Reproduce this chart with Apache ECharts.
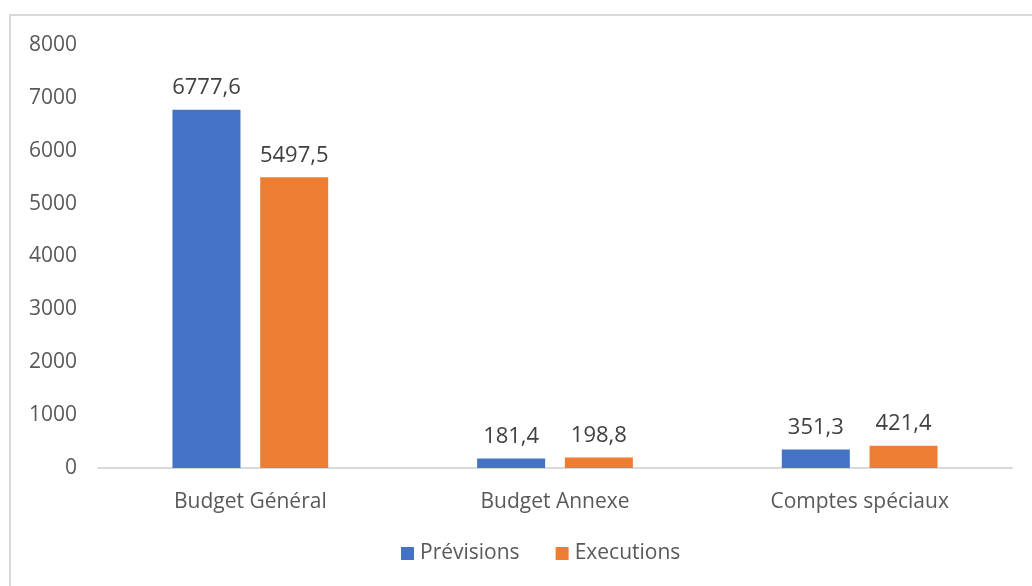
<!DOCTYPE html>
<html><head><meta charset="utf-8">
<script src="https://cdn.jsdelivr.net/npm/echarts@6/dist/echarts.min.js"></script>
<style>
html,body{margin:0;padding:0;background:#fff;}
#frame{position:absolute;left:9px;top:14px;width:1040px;height:600px;border:2px solid #d9d9d9;box-sizing:border-box;}
#c{position:absolute;left:0;top:0;width:1032px;height:586px;}
</style></head>
<body>
<div id="frame"></div>
<div id="c"></div>
<script>
const categories = ['Budget Général', 'Budget Annexe', 'Comptes spéciaux'];
const previsions = [6777.6, 181.4, 351.3];
const executions = [5497.5, 198.8, 421.4];
const yTicks = [0, 1000, 2000, 3000, 4000, 5000, 6000, 7000, 8000];

const chart = echarts.init(document.getElementById('c'));
const fmt = p => String(p.value).replace('.', ',');
const font = "'Open Sans', sans-serif";
chart.setOption({
  animation: false,
  textStyle: {fontFamily: font},
  grid: {left: 98, right: 20, top: 45, bottom: 118},
  legend: {
    bottom: 17, left: 396,
    itemWidth: 13, itemHeight: 13, itemGap: 36,
    icon: 'rect',
    textStyle: {fontSize: 21, color: '#595959', fontFamily: font, padding: [0, 0, 0, 1]},
    data: ['Prévisions', 'Executions']
  },
  xAxis: {
    type: 'category', data: categories,
    axisLine: {lineStyle: {color: '#d9d9d9', width: 2}},
    axisTick: {show: false},
    axisLabel: {fontSize: 21, color: '#595959', margin: 24, fontFamily: font}
  },
  yAxis: {
    type: 'value', min: yTicks[0], max: yTicks[yTicks.length - 1], interval: 1000,
    splitLine: {show: false},
    axisLine: {show: false}, axisTick: {show: false},
    axisLabel: {fontSize: 21, color: '#595959', margin: 21, fontFamily: font, formatter: v => String(v)}
  },
  series: [
    {name: 'Prévisions', type: 'bar', data: previsions, barWidth: 68, barGap: '29%',
     itemStyle: {color: '#4472C4'},
     label: {show: true, position: 'top', distance: 11, fontSize: 22, color: '#404040', formatter: fmt, fontFamily: font}},
    {name: 'Executions', type: 'bar', data: executions, barWidth: 68, barGap: '29%',
     itemStyle: {color: '#ED7D31'},
     label: {show: true, position: 'top', distance: 11, fontSize: 22, color: '#404040', formatter: fmt, fontFamily: font}}
  ]
});
</script>
</body></html>
